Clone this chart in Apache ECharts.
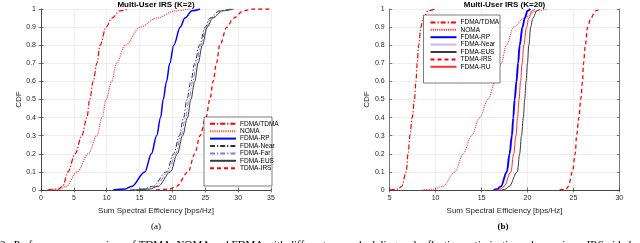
<!DOCTYPE html>
<html><head><meta charset="utf-8">
<script src="https://cdn.jsdelivr.net/npm/echarts/dist/echarts.min.js"></script>
<style>html,body{margin:0;padding:0;background:#fff}#c{width:640px;height:243px}</style>
</head><body><div id="c"></div><script>
// ---------- data ----------
const cdfLevels = [0, 0.005, 0.02, 0.1, 0.2, 0.3, 0.4, 0.5, 0.6, 0.7, 0.8, 0.9, 0.95, 0.99, 1];

// (a) K=2 : sum spectral efficiency at each CDF level
const a_FDMA_TDMA = [1.0, 2.6, 3.3, 4.1, 5.2, 6.2, 7.0, 7.4, 7.95, 8.5, 9.0, 9.9, 10.8, 12.0, 13.3];
const a_NOMA      = [1.5, 2.8, 3.8, 5.5, 7.2, 8.5, 9.3, 9.9, 10.75, 11.5, 12.8, 15.1, 17.6, 20.5, 22.7];
const a_FDMA_RP   = [11.0, 12.8, 13.8, 15.8, 16.8, 17.6, 18.2, 18.6, 19.1, 19.6, 20.2, 21.2, 21.9, 23.0, 24.2];
const a_FDMA_Near = [13.5, 15.5, 17.0, 19.1, 20.2, 21.05, 21.7, 22.2, 22.8, 23.4, 24.1, 25.0, 25.7, 27.2, 28.8];
const a_FDMA_Far  = [14.0, 16.0, 17.4, 19.4, 20.5, 21.3, 22.0, 22.5, 23.1, 23.65, 24.3, 25.15, 25.9, 27.5, 29.0];
const a_FDMA_EUS  = [14.5, 16.5, 17.8, 19.7, 20.75, 21.55, 22.3, 22.8, 23.4, 23.9, 24.55, 25.3, 26.1, 27.7, 29.3];
const a_TDMA_IRS  = [17.5, 19.5, 20.6, 22.4, 23.4, 24.2, 25.1, 25.7, 26.2, 26.7, 27.2, 28.3, 29.3, 30.8, 32.3];

// (b) K=20
const b_FDMA_TDMA = [5.0, 5.9, 6.3, 6.8, 7.0, 7.2, 7.45, 7.7, 7.85, 8.0, 8.15, 8.4, 8.65, 9.2, 9.9];
const b_NOMA      = [8.5, 9.8, 10.8, 12.1, 13.0, 13.9, 14.8, 15.7, 16.5, 17.15, 17.7, 18.5, 19.6, 21.0, 22.1];
const b_FDMA_RP   = [16.3, 16.7, 17.1, 17.75, 18.05, 18.3, 18.45, 18.6, 18.8, 18.97, 19.15, 19.45, 19.7, 20.0, 20.3];
const b_FDMA_Near = [16.35, 16.75, 17.15, 17.8, 18.1, 18.35, 18.5, 18.65, 18.85, 19.02, 19.2, 19.5, 19.75, 20.05, 20.35];
const b_FDMA_EUS  = [17.2, 17.6, 18.0, 18.9, 19.15, 19.35, 19.55, 19.7, 19.85, 20.0, 20.15, 20.35, 20.6, 21.0, 21.35];
const b_TDMA_IRS  = [23.5, 24.2, 24.45, 24.9, 25.2, 25.35, 25.6, 25.8, 26.0, 26.1, 26.3, 26.55, 26.9, 27.4, 27.9];
const b_FDMA_RU   = [16.6, 17.1, 17.45, 18.2, 18.5, 18.75, 18.92, 19.08, 19.25, 19.42, 19.6, 19.9, 20.15, 20.5, 20.85];

const xTicksA = [0, 35, 5];
const xTicksB = [5, 30, 5];
const yTicks = [0, 1, 0.1];

const titles = ['Multi-User IRS (K=2)', 'Multi-User IRS (K=20)'];
const xName = 'Sum Spectral Efficiency [bps/Hz]';
const yName = 'CDF';
const subLabels = ['(a)', '(b)'];
const caption = '2.  Performance comparison of TDMA, NOMA and FDMA with different user scheduling and reflection optimization schemes in an IRS-aided system';

// ---------- chart ----------
const FONT = '"Liberation Sans", Arial, sans-serif';
const SERIF = '"Liberation Serif", "Times New Roman", serif';
const AX = '#262626';
const DASHDOT = [5, 2, 1.2, 2];

function pts(xs, tail) {
  const d = xs.map((x, i) => [x, cdfLevels[i]]);
  if (tail !== undefined) d.push([tail, 1]);
  return d;
}
function ser(name, gi, xs, color, width, type, z, tail) {
  return {
    name: name, type: 'line', xAxisIndex: gi * 2, yAxisIndex: gi * 2,
    data: pts(xs, tail), symbol: 'none', smooth: 0.35, smoothMonotone: 'x',
    lineStyle: { color: color, width: width, type: type },
    itemStyle: { color: color }, z: z || 2, silent: true, animation: false
  };
}

const series = [
  ser('FDMA/TDMA|a', 0, a_FDMA_TDMA, '#ff0000', 1.2, DASHDOT),
  ser('NOMA|a', 0, a_NOMA, '#ff5050', 1.2, [1.2, 1]),
  ser('FDMA-RP|a', 0, a_FDMA_RP, '#0000ff', 1.5, 'solid'),
  ser('FDMA-Near|a', 0, a_FDMA_Near, '#303030', 1, DASHDOT),
  ser('FDMA-Far|a', 0, a_FDMA_Far, '#7b7bff', 1, DASHDOT),
  ser('FDMA-EUS|a', 0, a_FDMA_EUS, '#3a3a3a', 1, 'solid'),
  ser('TDMA-IRS|a', 0, a_TDMA_IRS, '#ff0000', 1.3, [4, 3], 2, 35),

  ser('FDMA/TDMA|b', 1, b_FDMA_TDMA, '#ff0000', 1.2, DASHDOT),
  ser('NOMA|b', 1, b_NOMA, '#ff3030', 1, [1.2, 1]),
  ser('FDMA-RP|b', 1, b_FDMA_RP, '#0000ff', 1.8, 'solid', 3),
  ser('FDMA-Near|b', 1, b_FDMA_Near, '#d2b4dc', 1.8, 'solid'),
  ser('FDMA-EUS|b', 1, b_FDMA_EUS, '#3a3a3a', 1, 'solid'),
  ser('TDMA-IRS|b', 1, b_TDMA_IRS, '#ff0000', 1.3, [4, 3]),
  ser('FDMA-RU|b', 1, b_FDMA_RU, '#ff3030', 1, 'solid', 3)
];

const grids = [
  { left: 41, right: 369, top: 9, bottom: 53 },
  { left: 389.7, right: 20.7, top: 9, bottom: 53 }
];

const labelStyle = { fontSize: 7, fontFamily: FONT, color: AX };
function xAxes(gi, t) {
  const base = {
    type: 'value', gridIndex: gi, min: t[0], max: t[1], interval: t[2],
    axisLine: { show: true, lineStyle: { color: AX, width: 0.6 } },
    axisTick: { show: true, inside: true, length: 2.5, lineStyle: { color: AX, width: 0.6 } },
    splitLine: { show: false }
  };
  return [
    Object.assign({}, base, {
      position: 'bottom',
      axisLabel: Object.assign({ margin: 5 }, labelStyle),
      splitLine: { show: true, lineStyle: { color: '#e3e3e3', width: 0.6 } },
      name: xName, nameLocation: 'middle', nameGap: 15,
      nameTextStyle: { fontSize: 8, fontFamily: FONT, color: AX }
    }),
    Object.assign({}, base, { position: 'top', axisLabel: { show: false } })
  ];
}
function yAxes(gi) {
  const base = {
    type: 'value', gridIndex: gi, min: yTicks[0], max: yTicks[1], interval: yTicks[2],
    axisLine: { show: true, lineStyle: { color: AX, width: 0.6 } },
    axisTick: { show: true, inside: true, length: 2.5, lineStyle: { color: AX, width: 0.6 } },
    splitLine: { show: false }
  };
  return [
    Object.assign({}, base, {
      position: 'left',
      axisLabel: Object.assign({ margin: 5 }, labelStyle),
      splitLine: { show: true, lineStyle: { color: '#e3e3e3', width: 0.6 } },
      name: yName, nameLocation: 'middle', nameGap: 15,
      nameTextStyle: { fontSize: 8, fontFamily: FONT, color: AX }
    }),
    Object.assign({}, base, { position: 'right', axisLabel: { show: false } })
  ];
}

function legend(names, left, top) {
  return {
    data: names, orient: 'vertical', left: left, top: top, padding: 0,
    itemWidth: 26, itemHeight: 9, itemGap: 0.2, selectedMode: false,
    itemStyle: { opacity: 0, borderWidth: 0 },
    textStyle: { fontSize: 6.5, fontFamily: FONT, color: '#000', padding: [0, 0, 0, -1] },
    formatter: n => n.split('|')[0], z: 5
  };
}

const txt = (x, y, s, opt) => ({
  type: 'text', x: x, y: y, silent: true, z: 6,
  style: Object.assign({ text: s, fill: '#000', textAlign: 'center', textVerticalAlign: 'middle' }, opt)
});

const option = {
  animation: false,
  backgroundColor: '#fff',
  grid: grids,
  xAxis: xAxes(0, xTicksA).concat(xAxes(1, xTicksB)),
  yAxis: yAxes(0).concat(yAxes(1)),
  legend: [
    legend(series.slice(0, 7).map(s => s.name), 209, 120.2),
    legend(series.slice(7).map(s => s.name), 429.5, 18.8)
  ],
  series: series,
  graphic: [
    { type: 'rect', shape: { x: 204, y: 117, width: 68, height: 69 }, z: 4,
      style: { fill: '#fff', stroke: AX, lineWidth: 0.6 } },
    { type: 'rect', shape: { x: 423.5, y: 15, width: 76.5, height: 68 }, z: 4,
      style: { fill: '#fff', stroke: AX, lineWidth: 0.6 } },
    txt(156, 4.5, titles[0], { font: 'bold 8px ' + FONT }),
    txt(504.5, 4.5, titles[1], { font: 'bold 8px ' + FONT }),
    txt(156, 226.7, subLabels[0], { font: '9px ' + SERIF }),
    txt(503, 226.7, subLabels[1], { font: 'bold 9px ' + SERIF }),
    txt(0, 240, caption, { font: '11px ' + SERIF, textAlign: 'left', textVerticalAlign: 'top' })
  ]
};

const chart = echarts.init(document.getElementById('c'), null, { renderer: 'canvas' });
chart.setOption(option);
</script></body></html>
